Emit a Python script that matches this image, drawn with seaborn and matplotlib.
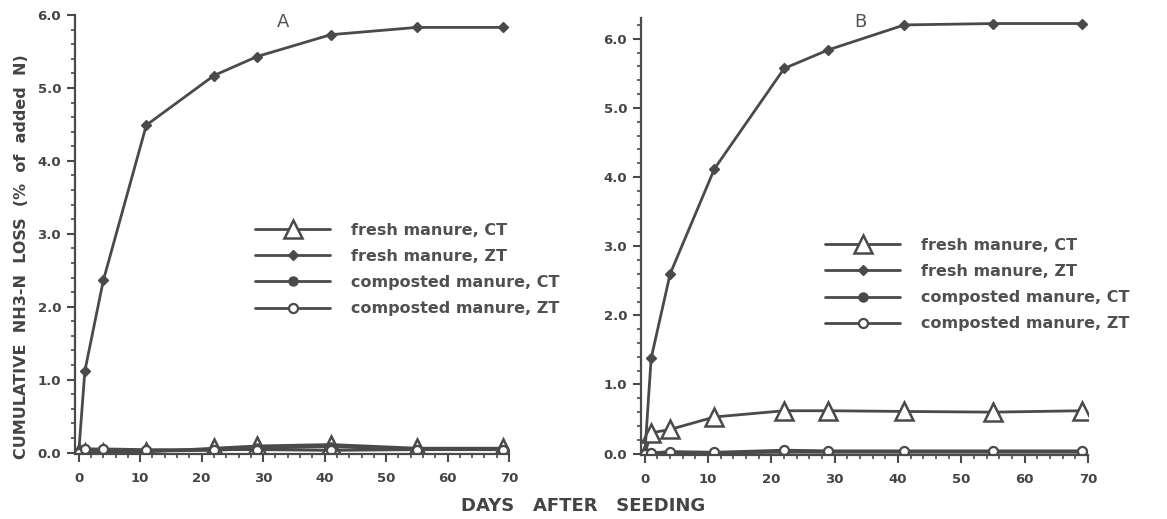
import numpy as np
import pandas as pd
import seaborn as sns
import matplotlib.pyplot as plt
from matplotlib.ticker import MultipleLocator

# days after seeding (sampling dates)
days = [0, 1, 4, 11, 22, 29, 41, 55, 69]

# panel A - cumulative NH3-N loss (% of added N)
a_fresh_ct = [0.00, 0.00, 0.00, 0.01, 0.06, 0.09, 0.11, 0.06, 0.06]
a_fresh_zt = [0.00, 1.12, 2.36, 4.49, 5.17, 5.43, 5.73, 5.83, 5.83]
a_comp_ct = [0.00, 0.03, 0.03, 0.02, 0.03, 0.06, 0.08, 0.04, 0.04]
a_comp_zt = [0.00, 0.05, 0.05, 0.04, 0.04, 0.04, 0.03, 0.04, 0.04]

# panel B
b_fresh_ct = [0.00, 0.30, 0.35, 0.53, 0.62, 0.62, 0.61, 0.60, 0.62]
b_fresh_zt = [0.00, 1.38, 2.60, 4.12, 5.57, 5.84, 6.20, 6.22, 6.22]
b_comp_ct = [0.00, 0.01, 0.01, 0.01, 0.02, 0.02, 0.02, 0.02, 0.02]
b_comp_zt = [0.00, 0.01, 0.03, 0.02, 0.05, 0.04, 0.04, 0.04, 0.04]

labels = ["fresh manure, CT", "fresh manure, ZT",
          "composted manure, CT", "composted manure, ZT"]


def make_df(series):
    frames = []
    for name, vals in zip(labels, series):
        frames.append(pd.DataFrame({"day": days, "loss": vals, "treatment": name}))
    return pd.concat(frames, ignore_index=True)


df_a = make_df([a_fresh_ct, a_fresh_zt, a_comp_ct, a_comp_zt])
df_b = make_df([b_fresh_ct, b_fresh_zt, b_comp_ct, b_comp_zt])

ink = "#4a4a4a"
styles = {
    "fresh manure, CT": dict(marker="^", markersize=13, markerfacecolor="white", markeredgewidth=1.8),
    "fresh manure, ZT": dict(marker="D", markersize=5.5, markerfacecolor=ink, markeredgewidth=1.0),
    "composted manure, CT": dict(marker="o", markersize=6.5, markerfacecolor=ink, markeredgewidth=1.0),
    "composted manure, ZT": dict(marker="o", markersize=6.5, markerfacecolor="white", markeredgewidth=1.6),
}

sns.set_style("ticks")
plt.rcParams["font.family"] = ["DejaVu Sans"]
plt.rcParams["font.weight"] = "bold"

fig = plt.figure(figsize=(11.67, 5.19), dpi=100)
ax_a = fig.add_axes([0.0643, 0.1252, 0.3719, 0.8459])
ax_b = fig.add_axes([0.5493, 0.1233, 0.3830, 0.8420])


def draw_panel(ax, df, ymax, title, title_xy, leg_xy):
    for name in labels:
        sub = df[df["treatment"] == name]
        sns.lineplot(data=sub, x="day", y="loss", ax=ax, color=ink, linewidth=2.0,
                     markeredgecolor=ink, label=name, **styles[name])
    ax.set_xlim(-0.6, 70)
    ax.set_ylim(-0.02, ymax)
    ax.set_xlabel("")
    ax.set_ylabel("")
    ax.xaxis.set_major_locator(MultipleLocator(10))
    ax.xaxis.set_minor_locator(MultipleLocator(2))
    ax.yaxis.set_major_locator(MultipleLocator(1.0))
    ax.yaxis.set_minor_locator(MultipleLocator(0.2))
    ax.yaxis.set_major_formatter(plt.FormatStrFormatter("%.1f"))
    ax.tick_params(which="major", direction="out", length=6, width=1.5, color=ink,
                   labelsize=9.5, labelcolor="#444444", pad=4)
    ax.tick_params(which="minor", direction="out", length=3, width=1.2, color=ink)
    ax.tick_params(axis="x", which="major", pad=7)
    for lbl in ax.get_xticklabels() + ax.get_yticklabels():
        lbl.set_fontweight("bold")
    sns.despine(ax=ax)
    ax.spines["left"].set_linewidth(1.6)
    ax.spines["bottom"].set_linewidth(1.6)
    ax.spines["left"].set_color(ink)
    ax.spines["bottom"].set_color(ink)
    ax.text(title_xy[0], title_xy[1], title, transform=ax.transAxes, fontsize=13,
            color="#555555", ha="center", va="center", fontweight="normal")
    leg = ax.legend(loc="upper left", bbox_to_anchor=leg_xy, frameon=False,
                    fontsize=11.5, handlelength=4.7, handletextpad=1.3,
                    labelspacing=0.7, borderpad=0, borderaxespad=0)
    for t in leg.get_texts():
        t.set_color("#505050")
        t.set_fontweight("bold")


draw_panel(ax_a, df_a, 6.0, "A", (0.48, 0.985), (0.415, 0.527))
draw_panel(ax_b, df_b, 6.3, "B", (0.49, 0.99), (0.412, 0.497))

fig.text(0.018, 0.505, "CUMULATIVE  NH3-N  LOSS  (%  of  added  N)", rotation=90,
         ha="center", va="center", fontsize=11.5, fontweight="bold", color="#444444")
fig.text(0.50, 0.025, "DAYS   AFTER   SEEDING", ha="center", va="center",
         fontsize=13, fontweight="bold", color="#444444")

fig.savefig("out.png", dpi=100, facecolor="white")
